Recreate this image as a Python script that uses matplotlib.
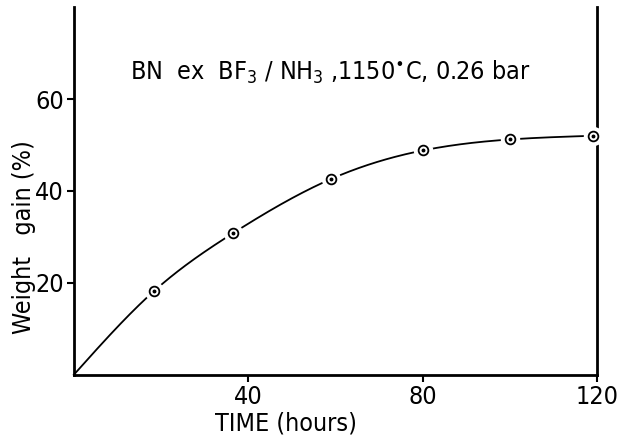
import numpy as np
import matplotlib
matplotlib.use("Agg")
import matplotlib.pyplot as plt
from matplotlib import font_manager

# Weight gain of BN deposited from BF3/NH3 at 1150 C, 0.26 bar
time_h = [18.5, 36.5, 59.0, 80.0, 100.0, 119.0]
weight_gain = [18.3, 30.8, 42.6, 48.8, 51.2, 52.0]
x_ticks = [40, 80, 120]
y_ticks = [20, 40, 60]
title_text = r"BN  ex  BF$_3$ / NH$_3$ ,1150$^{\bullet}$C, 0.26 bar"


def natural_spline(xk, yk, xs):
    xk = np.asarray(xk, float)
    yk = np.asarray(yk, float)
    n = len(xk)
    h = np.diff(xk)
    A = np.zeros((n, n))
    b = np.zeros(n)
    A[0, 0] = A[-1, -1] = 1.0
    for i in range(1, n - 1):
        A[i, i - 1] = h[i - 1]
        A[i, i] = 2 * (h[i - 1] + h[i])
        A[i, i + 1] = h[i]
        b[i] = 3 * ((yk[i + 1] - yk[i]) / h[i] - (yk[i] - yk[i - 1]) / h[i - 1])
    c = np.linalg.solve(A, b)
    out = np.empty_like(xs)
    for j, x in enumerate(xs):
        i = min(max(np.searchsorted(xk, x) - 1, 0), n - 2)
        dx = x - xk[i]
        bi = (yk[i + 1] - yk[i]) / h[i] - h[i] * (2 * c[i] + c[i + 1]) / 3
        di = (c[i + 1] - c[i]) / (3 * h[i])
        out[j] = yk[i] + bi * dx + c[i] * dx ** 2 + di * dx ** 3
    return out


# prefer a condensed face when one is installed
has_condensed = any(f.name == "DejaVu Sans" and f.stretch == "condensed"
                    for f in font_manager.fontManager.ttflist)
if has_condensed:
    plt.rcParams["font.family"] = ["DejaVu Sans"]
    plt.rcParams["font.stretch"] = "condensed"
    base = 18
else:
    plt.rcParams["font.family"] = ["Roboto", "DejaVu Sans"]
    base = 17
plt.rcParams["mathtext.fontset"] = "custom"
plt.rcParams["mathtext.rm"] = plt.rcParams["font.family"][0]

fig = plt.figure(figsize=(6.2, 4.42), dpi=100)
ax = fig.add_axes([0.119, 0.152, 0.844, 0.832])

# smooth curve through the origin and the measured points
xs = np.linspace(0, time_h[-1], 400)
ys = natural_spline([0.0] + time_h, [0.0] + weight_gain, xs)
ax.plot(xs, ys, color="black", lw=1.3, zorder=2, clip_on=False)

# white halos break the curve around each marker
ax.plot(time_h, weight_gain, "o", ms=14, mfc="white", mec="none", zorder=3, clip_on=False)
ax.plot(time_h, weight_gain, "o", ms=7, mfc="white", mec="black", mew=1.3, zorder=4, clip_on=False)
ax.plot(time_h, weight_gain, "o", ms=1.8, mfc="black", mec="black", zorder=5, clip_on=False)

ax.set_xlim(0, 120)
ax.set_ylim(0, 80)
ax.set_xticks(x_ticks)
ax.set_yticks(y_ticks)
ax.spines["top"].set_visible(False)
for s in ("left", "right", "bottom"):
    ax.spines[s].set_linewidth(2)
ax.tick_params(direction="out", length=5, width=1.5, labelsize=base, pad=2)

ax.set_xlabel("TIME (hours)", fontsize=base)
ax.xaxis.set_label_coords(0.405, -0.1)
ax.set_ylabel("Weight   gain (%)", fontsize=base)
ax.yaxis.set_label_coords(-0.072, 0.375)
ax.text(0.49, 0.823, title_text, transform=ax.transAxes, ha="center", va="center", fontsize=base)

fig.savefig("out.png", dpi=100)
